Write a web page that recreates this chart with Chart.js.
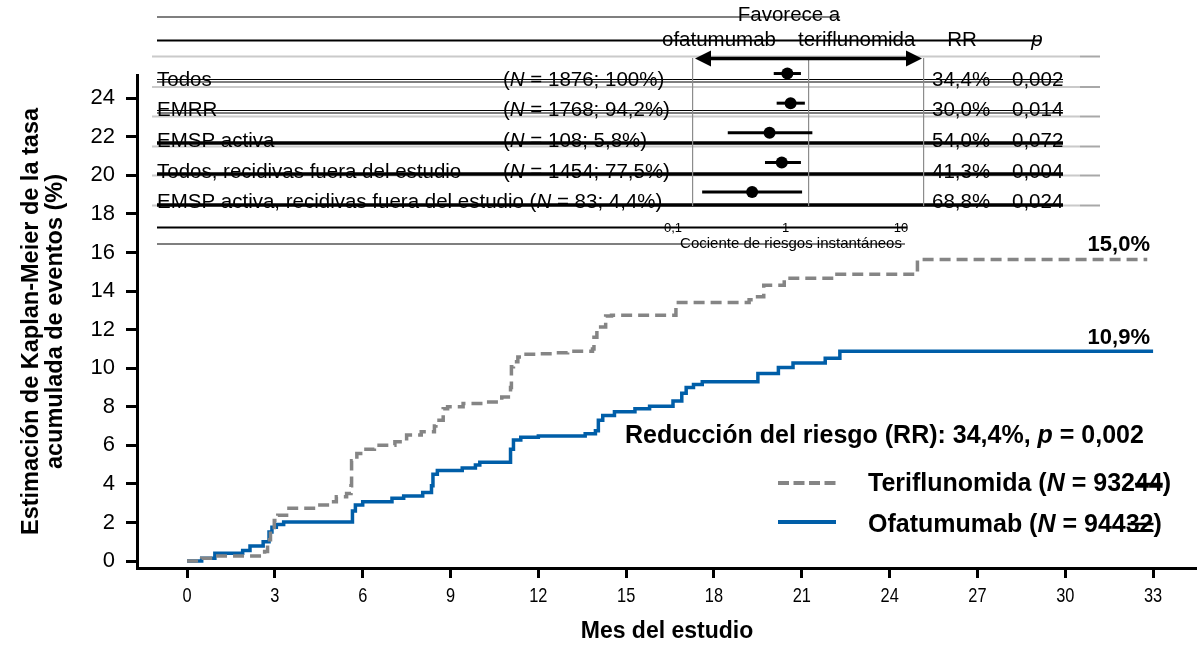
<!DOCTYPE html>
<html>
<head>
<meta charset="utf-8">
<title>Estimación de Kaplan-Meier</title>
<script src="https://cdn.jsdelivr.net/npm/chart.js@4.4.0/dist/chart.umd.min.js"></script>
<style>
  body { margin: 0; background: #fff; }
  #wrap { position: relative; width: 1197px; height: 645px; }
  #kmChart { position: absolute; left: 0; top: 0; }
  #forestChart { position: absolute; left: 680px; top: 40px; }
</style>
</head>
<body>
<div id="wrap">
  <canvas id="kmChart" width="1197" height="645"></canvas>
  <canvas id="forestChart" width="260" height="180"></canvas>
</div>
<script>
// axis ticks
const xTicks = [0, 3, 6, 9, 12, 15, 18, 21, 24, 27, 30, 33];
const yTicks = [0, 2, 4, 6, 8, 10, 12, 14, 16, 18, 20, 22, 24];

// Kaplan-Meier curves (month, cumulative %)
const ofaMonths = [0, 0.5, 0.95, 1.9, 2.15, 2.6, 2.8, 2.9, 3.05, 3.3, 5.65, 5.75, 6.0, 7.0, 7.4, 8.05, 8.35, 8.4, 8.55, 9.4, 9.85, 10.0,
  11.05, 11.15, 11.4, 12.0, 13.6, 13.95, 14.05, 14.2, 14.6, 15.3, 15.8, 16.6, 16.9, 17.05, 17.3, 17.6, 19.5, 20.2, 20.7, 21.8, 22.3, 33.0];
const ofaRates = [0, 0.15, 0.4, 0.55, 0.78, 1.0, 1.5, 1.75, 1.9, 2.02, 2.6, 2.9, 3.07, 3.25, 3.37, 3.55, 3.9, 4.5, 4.7, 4.82, 4.98, 5.12,
  5.8, 6.27, 6.42, 6.48, 6.6, 6.75, 7.3, 7.55, 7.74, 7.9, 8.03, 8.3, 8.7, 9.0, 9.15, 9.3, 9.72, 10.04, 10.27, 10.52, 10.88, 10.88];

const teriMonths = [0, 0.5, 0.9, 2.65, 2.75, 2.85, 2.98, 3.1, 3.4, 4.45, 4.9, 5.1, 5.45, 5.6, 5.62, 5.8, 6.0, 6.4, 7.1, 7.5, 8.0, 8.45,
  8.5, 8.75, 8.9, 9.43, 10.1, 10.75, 11.05, 11.08, 11.15, 11.3, 11.5, 12.0, 12.5, 13.0, 13.85, 13.9, 14.0, 14.3, 14.5, 16.7, 19.2,
  19.35, 19.7, 20.4, 22.2, 24.95, 32.8];
const teriRates = [0, 0.15, 0.26, 0.5, 1.1, 1.6, 2.1, 2.38, 2.74, 2.9, 3.07, 3.33, 3.5, 3.9, 5.2, 5.58, 5.8, 6.0, 6.18, 6.53, 6.7, 7.0,
  7.3, 7.9, 8.0, 8.17, 8.25, 8.5, 9.0, 10.07, 10.33, 10.58, 10.72, 10.75, 10.8, 10.88, 11.0, 11.6, 12.14, 12.7, 12.75, 13.4, 13.55,
  13.7, 14.3, 14.66, 14.87, 15.63, 15.63];

// subgroup table / forest plot
const subgroupLabels = ['Todos', 'EMRR', 'EMSP activa', 'Todos, recidivas fuera del estudio', 'EMSP activa, recidivas fuera del estudio'];
const subgroupN = ['1876; 100%', '1768; 94,2%', '108; 5,8%', '1454; 77,5%', '83; 4,4%'];
const subgroupRR = ['34,4%', '30,0%', '54,0%', '41,3%', '68,8%'];
const subgroupP = ['0,002', '0,014', '0,072', '0,004', '0,024'];
const hrValues = [0.656, 0.70, 0.46, 0.587, 0.325];
const hrLow = [0.50, 0.53, 0.20, 0.42, 0.12];
const hrHigh = [0.86, 0.93, 1.08, 0.86, 0.88];
const forestTicks = [0.1, 1, 10];
const forestTickLabels = ['0,1', '1', '10'];

const FAM = "'Liberation Sans', Arial, sans-serif";
const BLUE = '#005ea8';
const GREY = '#858585';

function font(size, weight, italic) {
  return (italic ? 'italic ' : '') + (weight || 'normal') + ' ' + size + 'px ' + FAM;
}

// draws text pieces one after another, [text, italic]
function segs(ctx, parts, x, y, size, weight) {
  parts.forEach(function (p) {
    ctx.font = font(size, weight, p[1]);
    ctx.fillText(p[0], x, y);
    x += ctx.measureText(p[0]).width;
  });
  return x;
}

function hline(ctx, x0, x1, y, w, color) {
  ctx.beginPath();
  ctx.strokeStyle = color;
  ctx.lineWidth = w;
  ctx.moveTo(x0, y);
  ctx.lineTo(x1, y);
  ctx.stroke();
}

// table, legend and labels on top of the KM plot
const overlayPlugin = {
  id: 'overlay',
  afterDraw(chart) {
    const ctx = chart.ctx;
    ctx.save();
    ctx.fillStyle = '#000';
    ctx.textBaseline = 'alphabetic';

    // month labels: narrow face, so squeeze them a bit
    const xs = chart.scales.x;
    ctx.font = font(21);
    ctx.textAlign = 'center';
    xs.ticks.forEach(function (t) {
      const px = xs.getPixelForValue(t.value);
      ctx.save();
      ctx.translate(px, 602);
      ctx.scale(0.78, 1);
      ctx.fillText(String(t.value), 0, 0);
      ctx.restore();
    });
    ctx.textAlign = 'left';

    // grey row rules
    [56.5, 87, 116.5, 146.5, 175.5, 205.5].forEach(function (y) {
      hline(ctx, 152, 1080, y, 2, '#cacaca');
      hline(ctx, 1080, 1100, y, 2, '#a8a8a8');
    });

    // header
    ctx.textAlign = 'center';
    ctx.font = font(20.5);
    ctx.fillText('Favorece a', 789, 21);
    ctx.textAlign = 'left';
    ctx.fillText('ofatumumab', 662, 46);
    ctx.fillText('teriflunomida', 798, 46);
    ctx.textAlign = 'center';
    ctx.fillText('RR', 962, 46);
    ctx.font = font(20.5, 'normal', true);
    ctx.fillText('p', 1037, 46);
    ctx.textAlign = 'left';
    hline(ctx, 157, 840, 17, 1.2, '#000');
    hline(ctx, 157, 1040, 40.5, 1.8, '#000');

    // rows
    const base = [86, 116, 147, 178, 208];
    subgroupLabels.forEach(function (lab, i) {
      ctx.font = font(20.5);
      ctx.fillText(lab, 157, base[i]);
      let nx = 503;
      const w = ctx.measureText(lab + ' ').width;
      if (157 + w > nx) nx = 157 + w;
      segs(ctx, [['(', false], ['N', true], [' = ' + subgroupN[i] + ')', false]], nx, base[i], 20.5);
      ctx.font = font(20.5);
      ctx.fillText(subgroupRR[i], 932, base[i]);
      ctx.fillText(subgroupP[i], 1012, base[i]);
    });

    // strike lines over the rows
    hline(ctx, 157, 1063, 79.5, 1.2, '#000');
    hline(ctx, 157, 1063, 82, 1.2, '#000');
    hline(ctx, 157, 1063, 110.5, 1.2, '#000');
    hline(ctx, 157, 1063, 113, 1.2, '#000');
    hline(ctx, 157, 1063, 143, 3.5, '#000');
    hline(ctx, 157, 1063, 174, 3.5, '#000');
    hline(ctx, 157, 1063, 205, 3.5, '#000');
    hline(ctx, 157, 907, 227.5, 2, '#000');
    hline(ctx, 157, 905, 244, 1.2, '#000');

    // forest axis labels
    ctx.textAlign = 'center';
    ctx.font = font(13);
    const fx = [673, 785.5, 901];
    forestTickLabels.forEach(function (t, i) { ctx.fillText(t, fx[i], 231.5); });
    ctx.font = font(15);
    ctx.fillText('Cociente de riesgos instantáneos', 791, 248);

    // end values
    ctx.textAlign = 'right';
    ctx.font = font(22, 'bold');
    ctx.fillText('15,0%', 1150, 251);
    ctx.fillText('10,9%', 1150, 344);

    // risk reduction
    ctx.textAlign = 'left';
    segs(ctx, [['Reducción del riesgo (RR): 34,4%, ', false], ['p', true], [' = 0,002', false]], 625, 443, 25, 'bold');

    // legend
    ctx.save();
    ctx.setLineDash([11, 4.5]);
    hline(ctx, 778, 836, 483, 4, GREY);
    ctx.restore();
    hline(ctx, 778, 836, 522, 4, BLUE);
    let lx = segs(ctx, [['Teriflunomida (', false], ['N', true], [' = 932', false]], 868, 491, 25, 'bold');
    ctx.font = font(25, 'bold');
    const w44 = ctx.measureText('44').width;
    ctx.fillText('44)', lx, 491);
    hline(ctx, lx, lx + w44, 484, 2.5, '#000');
    lx = segs(ctx, [['Ofatumumab (', false], ['N', true], [' = 944', false]], 868, 532, 25, 'bold');
    ctx.font = font(25, 'bold');
    const w32 = ctx.measureText('32').width;
    ctx.fillText('32)', lx, 532);
    hline(ctx, lx + 2, lx + w32, 524, 2.5, '#000');
    hline(ctx, lx + 2, lx + w32, 531, 2, '#000');

    ctx.restore();
  }
};

const kmCtx = document.getElementById('kmChart').getContext('2d');
new Chart(kmCtx, {
  type: 'line',
  data: {
    datasets: [
      {
        label: 'Teriflunomida',
        data: teriMonths.map(function (m, i) { return { x: m, y: teriRates[i] }; }),
        stepped: 'before',
        borderColor: GREY,
        borderWidth: 3.5,
        borderDash: [11, 6],
        pointRadius: 0,
        fill: false
      },
      {
        label: 'Ofatumumab',
        data: ofaMonths.map(function (m, i) { return { x: m, y: ofaRates[i] }; }),
        stepped: 'before',
        borderColor: BLUE,
        borderWidth: 3.5,
        pointRadius: 0,
        fill: false
      }
    ]
  },
  options: {
    responsive: false,
    animation: false,
    devicePixelRatio: 1,
    layout: { autoPadding: false, padding: { top: 75, right: 0, left: 0, bottom: 0 } },
    plugins: { legend: { display: false }, tooltip: { enabled: false } },
    scales: {
      x: {
        type: 'linear',
        min: -1.71,
        max: 34.5,
        afterBuildTicks: function (scale) { scale.ticks = xTicks.map(function (v) { return { value: v }; }); },
        afterFit: function (scale) { scale.height = 77; },
        grid: { drawOnChartArea: false, tickLength: 10, tickWidth: 3, tickColor: '#000' },
        border: { display: true, width: 3, color: '#000' },
        ticks: { display: false },
        title: { display: true, text: 'Mes del estudio', color: '#000', padding: { top: 0, bottom: 1.5 }, font: { family: FAM, size: 23, weight: 'bold', lineHeight: 1 } }
      },
      y: {
        type: 'linear',
        min: -0.36,
        max: 25.2,
        afterBuildTicks: function (scale) { scale.ticks = yTicks.map(function (v) { return { value: v }; }); },
        afterFit: function (scale) { scale.width = 137; },
        grid: { drawOnChartArea: false, tickLength: 11, tickWidth: 3, tickColor: '#000' },
        border: { display: true, width: 3, color: '#000' },
        ticks: { color: '#000', padding: 11, font: { family: FAM, size: 22 } },
        title: {
          display: true,
          text: ['Estimación de Kaplan-Meier de la tasa', 'acumulada de eventos (%)'],
          color: '#000',
          padding: { top: 20, bottom: 0 },
          font: { family: FAM, size: 23.5, weight: 'bold', lineHeight: 1 }
        }
      }
    }
  },
  plugins: [overlayPlugin]
});

// confidence intervals and the "favorece a" arrow of the inset
const forestPlugin = {
  id: 'forestBars',
  beforeDatasetsDraw(chart) {
    const ctx = chart.ctx;
    const x = chart.scales.x, y = chart.scales.y;
    ctx.save();
    ctx.strokeStyle = '#000';
    ctx.lineWidth = 3;
    hrValues.forEach(function (v, i) {
      const py = y.getPixelForValue(i + 1);
      ctx.beginPath();
      ctx.moveTo(x.getPixelForValue(hrLow[i]), py);
      ctx.lineTo(x.getPixelForValue(hrHigh[i]), py);
      ctx.stroke();
    });
    const ay = chart.chartArea.top + 0.5;
    const xl = x.getPixelForValue(0.1) + 2, xr = x.getPixelForValue(10) - 2;
    ctx.lineWidth = 3.5;
    ctx.beginPath();
    ctx.moveTo(xl + 12, ay);
    ctx.lineTo(xr - 12, ay);
    ctx.stroke();
    ctx.fillStyle = '#000';
    ctx.beginPath();
    ctx.moveTo(xl, ay); ctx.lineTo(xl + 16, ay - 8); ctx.lineTo(xl + 16, ay + 8); ctx.closePath(); ctx.fill();
    ctx.beginPath();
    ctx.moveTo(xr, ay); ctx.lineTo(xr - 16, ay - 8); ctx.lineTo(xr - 16, ay + 8); ctx.closePath(); ctx.fill();
    ctx.restore();
  }
};

const forestCtx = document.getElementById('forestChart').getContext('2d');
new Chart(forestCtx, {
  type: 'scatter',
  data: {
    datasets: [{
      data: hrValues.map(function (v, i) { return { x: v, y: i + 1 }; }),
      pointRadius: 6,
      pointBackgroundColor: '#000',
      pointBorderWidth: 0
    }]
  },
  options: {
    responsive: false,
    animation: false,
    devicePixelRatio: 1,
    layout: { autoPadding: false, padding: { left: 13, right: 16, top: 18, bottom: 14 } },
    plugins: { legend: { display: false }, tooltip: { enabled: false } },
    scales: {
      x: {
        type: 'logarithmic',
        min: 0.1,
        max: 10,
        afterBuildTicks: function (scale) { scale.ticks = forestTicks.map(function (v) { return { value: v }; }); },
        afterFit: function (scale) { scale.height = 0; },
        ticks: { display: false },
        grid: { color: '#8c8c8c', lineWidth: 1.2, drawTicks: false },
        border: { display: false }
      },
      y: { display: false, reverse: true, min: 0.476, max: 5.47 }
    }
  },
  plugins: [forestPlugin]
});
</script>
</body>
</html>
